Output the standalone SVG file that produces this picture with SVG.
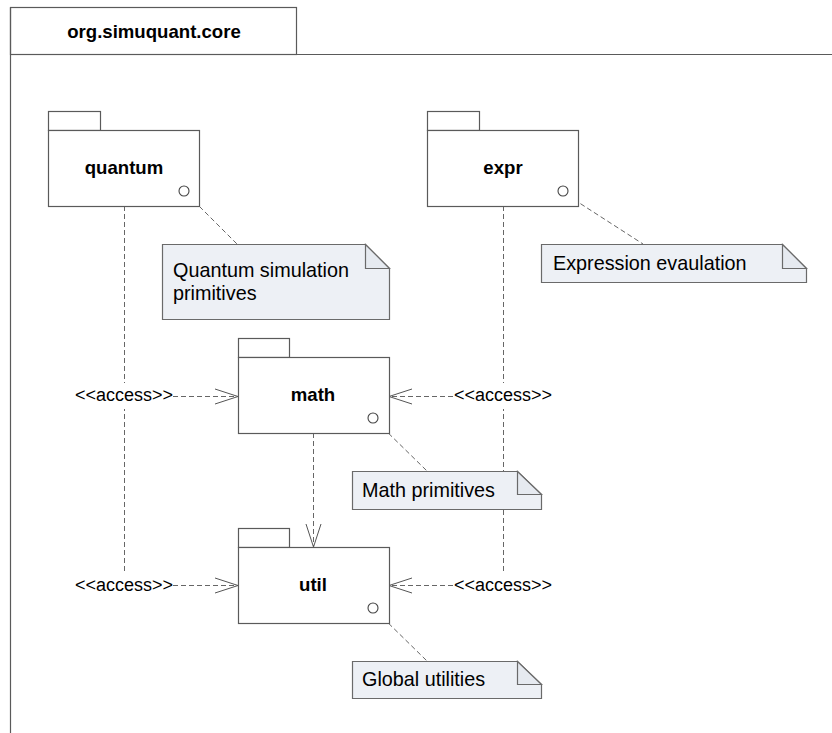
<svg xmlns="http://www.w3.org/2000/svg" width="832" height="733" viewBox="0 0 832 733">
  <defs>
    <style>
      .frame { fill: #ffffff; stroke: #5a5a5a; stroke-width: 1.2; }
      .pkg { fill: #ffffff; stroke: #5a5a5a; stroke-width: 1.2; }
      .note { fill: #edf0f5; stroke: #6a6a6a; stroke-width: 1.2; }
      .fold { fill: #e6eaf0; stroke: #6a6a6a; stroke-width: 1.2; }
      .dash { fill: none; stroke: #666666; stroke-width: 1; stroke-dasharray: 5 3; }
      .head { fill: none; stroke: #555555; stroke-width: 1; }
      .anchor { fill: #ffffff; stroke: #444444; stroke-width: 1.1; }
      .title { font-family: "Liberation Sans", Arial, sans-serif; font-weight: bold; font-size: 18.6px; fill: #000; text-anchor: middle; }
      .name { font-family: "Liberation Sans", Arial, sans-serif; font-weight: bold; font-size: 18.6px; fill: #000; text-anchor: middle; }
      .ntext { font-family: "Liberation Sans", Arial, sans-serif; font-size: 19.8px; fill: #000; }
      .lbl { font-family: "Liberation Sans", Arial, sans-serif; font-size: 18px; fill: #000; text-anchor: middle; }
    </style>
  </defs>

  <rect width="832" height="733" fill="#ffffff"/>

  <!-- enclosing package frame -->
  <g id="frame">
    <rect class="frame" x="10.5" y="7.5" width="286" height="47"/>
    <path class="frame" fill="none" d="M10.5 54.5 H832 M10.5 7.5 V733"/>
    <text class="title" x="154" y="38">org.simuquant.core</text>
  </g>

  <!-- dependencies -->
  <g id="connectors">
    <!-- note attachments -->
    <path class="dash" d="M188 195 L237 244"/>
    <path class="dash" d="M567 195 L643 244"/>
    <path class="dash" d="M377 422 L427 471"/>
    <path class="dash" d="M377 612 L427 661"/>

    <!-- quantum / expr access lines -->
    <path class="dash" d="M124.5 206 V573"/>
    <path class="dash" d="M503.5 206 V573"/>

    <!-- access to math -->
    <path class="dash" d="M173 396.5 H237"/>
    <path class="head" d="M215 389 L238 396.5 L215 404"/>
    <path class="dash" d="M453 396.5 H390"/>
    <path class="head" d="M412 389 L389 396.5 L412 404"/>

    <!-- access to util -->
    <path class="dash" d="M173 585.5 H237"/>
    <path class="head" d="M215 578 L238 585.5 L215 593"/>
    <path class="dash" d="M453 585.5 H390"/>
    <path class="head" d="M412 578 L389 585.5 L412 593"/>

    <!-- math imports util -->
    <path class="dash" d="M313.5 433 V546"/>
    <path class="head" d="M306 524 L313.5 547 L321 524"/>

    <!-- labels -->
    <rect x="75" y="383" width="98" height="26" fill="#ffffff"/>
    <text class="lbl" x="124" y="401">&lt;&lt;access&gt;&gt;</text>
    <rect x="454" y="383" width="98" height="26" fill="#ffffff"/>
    <text class="lbl" x="503" y="401">&lt;&lt;access&gt;&gt;</text>
    <text class="lbl" x="124" y="591">&lt;&lt;access&gt;&gt;</text>
    <text class="lbl" x="503" y="591">&lt;&lt;access&gt;&gt;</text>
  </g>

  <!-- packages -->
  <g id="quantum">
    <rect class="pkg" x="48.5" y="111.5" width="52" height="19"/>
    <rect class="pkg" x="48.5" y="130.5" width="151" height="76"/>
    <text class="name" x="124" y="174">quantum</text>
    <circle class="anchor" cx="184" cy="191" r="5"/>
  </g>

  <g id="expr">
    <rect class="pkg" x="427.5" y="111.5" width="52" height="19"/>
    <rect class="pkg" x="427.5" y="130.5" width="151" height="76"/>
    <text class="name" x="503" y="174">expr</text>
    <circle class="anchor" cx="563" cy="191" r="5"/>
  </g>

  <g id="math">
    <rect class="pkg" x="238.5" y="338.5" width="51" height="19"/>
    <rect class="pkg" x="238.5" y="357.5" width="151" height="76"/>
    <text class="name" x="313" y="401">math</text>
    <circle class="anchor" cx="373" cy="418" r="5"/>
  </g>

  <g id="util">
    <rect class="pkg" x="238.5" y="528.5" width="51" height="19"/>
    <rect class="pkg" x="238.5" y="547.5" width="151" height="76"/>
    <text class="name" x="313" y="591">util</text>
    <circle class="anchor" cx="373" cy="608" r="5"/>
  </g>

  <!-- notes -->
  <g id="note-quantum">
    <path class="note" d="M162.5 244.5 H365.5 L389.5 268.5 V319.5 H162.5 Z"/>
    <path class="fold" d="M365.5 244.5 V268.5 H389.5 Z"/>
    <text class="ntext" x="173" y="277">Quantum simulation</text>
    <text class="ntext" x="173" y="300">primitives</text>
  </g>

  <g id="note-expr">
    <path class="note" d="M541.5 244.5 H782.5 L806.5 268.5 V282.5 H541.5 Z"/>
    <path class="fold" d="M782.5 244.5 V268.5 H806.5 Z"/>
    <text class="ntext" x="553" y="270">Expression evaulation</text>
  </g>

  <g id="note-math">
    <path class="note" d="M352.5 471.5 H517.5 L541.5 494.5 V509.5 H352.5 Z"/>
    <path class="fold" d="M517.5 471.5 V494.5 H541.5 Z"/>
    <text class="ntext" x="362" y="497">Math primitives</text>
  </g>

  <g id="note-util">
    <path class="note" d="M352.5 661.5 H517.5 L541.5 684.5 V698.5 H352.5 Z"/>
    <path class="fold" d="M517.5 661.5 V684.5 H541.5 Z"/>
    <text class="ntext" x="362" y="686">Global utilities</text>
  </g>
</svg>
